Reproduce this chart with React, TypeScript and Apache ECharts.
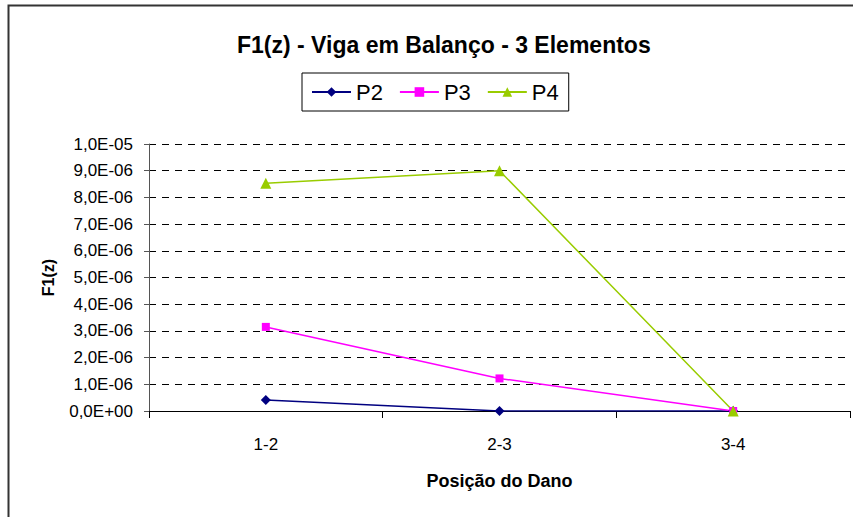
import React, { useEffect, useRef } from "react";
import * as echarts from "echarts";

const categories = ["1-2", "2-3", "3-4"];
const seriesNames = ["P2", "P3", "P4"];
const p2Values = [4.1e-7, 0, 0];
const p3Values = [3.15e-6, 1.22e-6, 0];
const p4Values = [8.53e-6, 9.0e-6, 0];
const yMin = 0;
const yMax = 1e-5;
const yStep = 1e-6;

function fmt(v: number): string {
  if (Math.abs(v) < 1e-15) return "0,0E+00";
  const [m, e] = v.toExponential(1).split("e");
  const n = parseInt(e, 10);
  return m.replace(".", ",") + "E" + (n < 0 ? "-" : "+") + String(Math.abs(n)).padStart(2, "0");
}

const FONT = "'Liberation Sans', Arial, sans-serif";

export default function App() {
  const ref = useRef<HTMLDivElement>(null);
  useEffect(() => {
    if (!ref.current) return;
    const chart = echarts.init(ref.current, null, { renderer: "svg" });
    chart.setOption({
      animation: false,
      backgroundColor: "#ffffff",
      textStyle: { fontFamily: FONT },
      title: {
        text: "F1(z) - Viga em Balanço - 3 Elementos",
        left: 232,
        top: 27,
        textStyle: { fontFamily: FONT, fontSize: 23, fontWeight: "bold", color: "#000", lineHeight: 26 },
      },
      legend: {
        data: seriesNames,
        left: 302,
        top: 73,
        padding: [8, 10, 8, 9],
        itemWidth: 39,
        itemHeight: 12,
        itemGap: 16,
        borderColor: "#000",
        borderWidth: 1,
        textStyle: { fontFamily: FONT, fontSize: 22, color: "#000" },
      },
      graphic: [
        {
          type: "rect",
          shape: { x: 8.5, y: 5.5, width: 900, height: 600 },
          style: { fill: "none", stroke: "#333", lineWidth: 2 },
          silent: true,
        },
      ],
      grid: { left: 149, right: 3, top: 144, bottom: 106 },
      xAxis: {
        type: "category",
        data: categories,
        boundaryGap: true,
        name: "Posição do Dano",
        nameLocation: "middle",
        nameGap: 61,
        nameTextStyle: { fontFamily: FONT, fontSize: 18, fontWeight: "bold", color: "#000" },
        axisLine: { lineStyle: { color: "#000", width: 1 } },
        axisTick: { show: true, length: 7, alignWithLabel: false, lineStyle: { color: "#000" } },
        axisLabel: { fontFamily: FONT, fontSize: 17, color: "#000", margin: 25 },
        splitLine: { show: false },
      },
      yAxis: {
        type: "value",
        min: yMin,
        max: yMax,
        interval: yStep,
        name: "F1(z)",
        nameLocation: "middle",
        nameGap: 93,
        nameTextStyle: { fontFamily: FONT, fontSize: 16, fontWeight: "bold", color: "#000" },
        axisLine: { show: true, lineStyle: { color: "#555", width: 1 } },
        axisTick: { show: true, length: 5, lineStyle: { color: "#555" } },
        axisLabel: { fontFamily: FONT, fontSize: 17, color: "#000", margin: 16, formatter: fmt },
        splitLine: { show: true, lineStyle: { color: "#000", type: [7, 6], width: 1 } },
      },
      series: [
        {
          name: "P2",
          type: "line",
          data: p2Values,
          symbol: "diamond",
          symbolSize: 10,
          itemStyle: { color: "#000080" },
          lineStyle: { color: "#000080", width: 1.5 },
        },
        {
          name: "P3",
          type: "line",
          data: p3Values,
          symbol: "rect",
          symbolSize: 8,
          itemStyle: { color: "#FF00FF" },
          lineStyle: { color: "#FF00FF", width: 1.5 },
        },
        {
          name: "P4",
          type: "line",
          data: p4Values,
          symbol: "triangle",
          symbolSize: 11,
          itemStyle: { color: "#99CC00" },
          lineStyle: { color: "#99CC00", width: 1.5 },
        },
      ],
    });
    return () => chart.dispose();
  }, []);
  return (
    <div
      ref={ref}
      style={{ position: "fixed", left: 0, top: 0, width: 853, height: 517 }}
    />
  );
}
